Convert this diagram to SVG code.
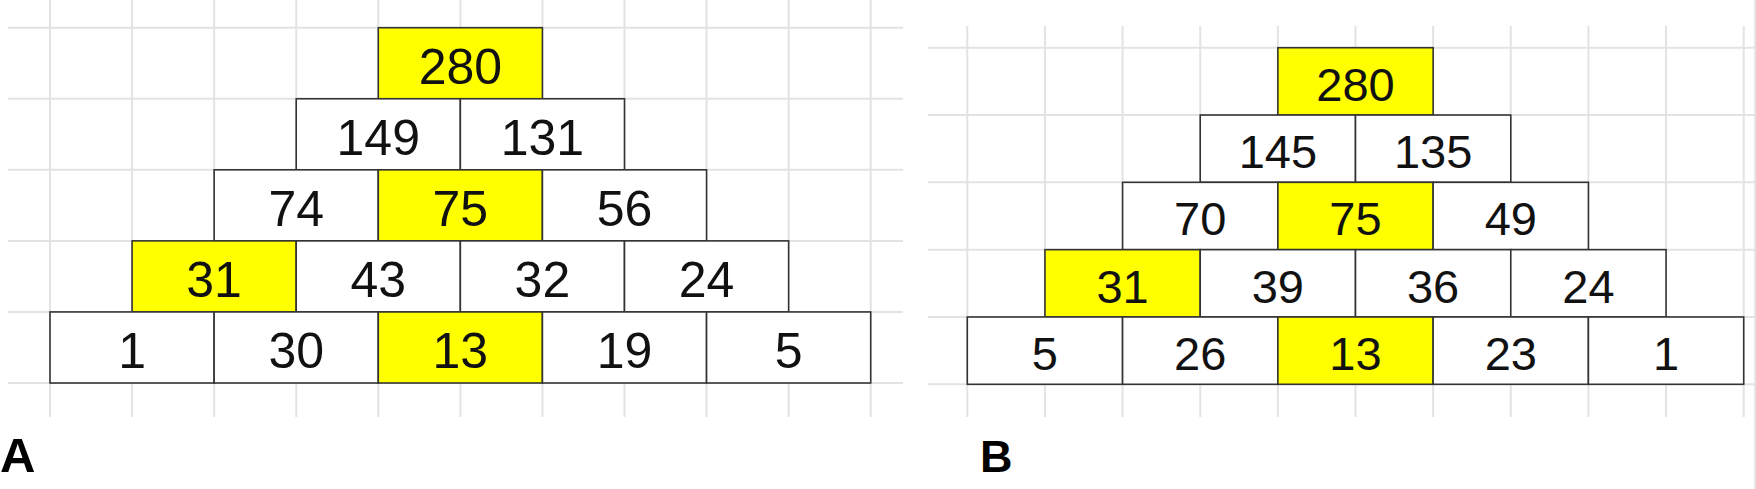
<svg xmlns="http://www.w3.org/2000/svg" width="1756" height="489" viewBox="0 0 1756 489">
<style>
.grid line{stroke:#e3e3e3;stroke-width:2}
.c rect{stroke:#333;stroke-width:1.6}
.w{fill:#fff}
.y{fill:#ffff00}
.tA{font-family:"Liberation Sans",Arial,sans-serif;font-size:50px;fill:#111;text-anchor:middle}
.tB{font-family:"Liberation Sans",Arial,sans-serif;font-size:47px;fill:#111;text-anchor:middle}
.lbl{font-family:"Liberation Sans",Arial,sans-serif;font-weight:bold;fill:#000}
</style>
<rect width="1756" height="489" fill="#fff"/>
<g id="gridA" class="grid">
<line x1="8" y1="27.7" x2="903" y2="27.7"/>
<line x1="8" y1="98.76" x2="903" y2="98.76"/>
<line x1="8" y1="169.82" x2="903" y2="169.82"/>
<line x1="8" y1="240.88" x2="903" y2="240.88"/>
<line x1="8" y1="311.94" x2="903" y2="311.94"/>
<line x1="8" y1="383" x2="903" y2="383"/>
<line x1="50" y1="0" x2="50" y2="417"/>
<line x1="132.07" y1="0" x2="132.07" y2="417"/>
<line x1="214.14" y1="0" x2="214.14" y2="417"/>
<line x1="296.21" y1="0" x2="296.21" y2="417"/>
<line x1="378.28" y1="0" x2="378.28" y2="417"/>
<line x1="460.35" y1="0" x2="460.35" y2="417"/>
<line x1="542.42" y1="0" x2="542.42" y2="417"/>
<line x1="624.49" y1="0" x2="624.49" y2="417"/>
<line x1="706.56" y1="0" x2="706.56" y2="417"/>
<line x1="788.63" y1="0" x2="788.63" y2="417"/>
<line x1="870.7" y1="0" x2="870.7" y2="417"/>
</g>
<g id="gridB" class="grid">
<line x1="928" y1="47.7" x2="1756" y2="47.7"/>
<line x1="928" y1="115.02" x2="1756" y2="115.02"/>
<line x1="928" y1="182.34" x2="1756" y2="182.34"/>
<line x1="928" y1="249.66" x2="1756" y2="249.66"/>
<line x1="928" y1="316.98" x2="1756" y2="316.98"/>
<line x1="928" y1="384.3" x2="1756" y2="384.3"/>
<line x1="967.3" y1="26" x2="967.3" y2="417"/>
<line x1="1044.94" y1="26" x2="1044.94" y2="417"/>
<line x1="1122.58" y1="26" x2="1122.58" y2="417"/>
<line x1="1200.22" y1="26" x2="1200.22" y2="417"/>
<line x1="1277.86" y1="26" x2="1277.86" y2="417"/>
<line x1="1355.5" y1="26" x2="1355.5" y2="417"/>
<line x1="1433.14" y1="26" x2="1433.14" y2="417"/>
<line x1="1510.78" y1="26" x2="1510.78" y2="417"/>
<line x1="1588.42" y1="26" x2="1588.42" y2="417"/>
<line x1="1666.06" y1="26" x2="1666.06" y2="417"/>
<line x1="1743.7" y1="26" x2="1743.7" y2="417"/>
<line x1="1755.2" y1="0" x2="1755.2" y2="489"/>
</g>
<g id="panelA" class="c">
<g id="a280"><rect class="y" x="378.28" y="27.7" width="164.14" height="71.06"/><text class="tA" x="460.35" y="83.7">280</text></g>
<g id="a149"><rect class="w" x="296.21" y="98.76" width="164.14" height="71.06"/><text class="tA" x="378.28" y="154.8">149</text></g>
<g id="a131"><rect class="w" x="460.35" y="98.76" width="164.14" height="71.06"/><text class="tA" x="542.42" y="154.8">131</text></g>
<g id="a74"><rect class="w" x="214.14" y="169.82" width="164.14" height="71.06"/><text class="tA" x="296.21" y="225.8">74</text></g>
<g id="a75"><rect class="y" x="378.28" y="169.82" width="164.14" height="71.06"/><text class="tA" x="460.35" y="225.8">75</text></g>
<g id="a56"><rect class="w" x="542.42" y="169.82" width="164.14" height="71.06"/><text class="tA" x="624.49" y="225.8">56</text></g>
<g id="a31"><rect class="y" x="132.07" y="240.88" width="164.14" height="71.06"/><text class="tA" x="214.14" y="296.9">31</text></g>
<g id="a43"><rect class="w" x="296.21" y="240.88" width="164.14" height="71.06"/><text class="tA" x="378.28" y="296.9">43</text></g>
<g id="a32"><rect class="w" x="460.35" y="240.88" width="164.14" height="71.06"/><text class="tA" x="542.42" y="296.9">32</text></g>
<g id="a24"><rect class="w" x="624.49" y="240.88" width="164.14" height="71.06"/><text class="tA" x="706.56" y="296.9">24</text></g>
<g id="a1"><rect class="w" x="50" y="311.94" width="164.14" height="71.06"/><text class="tA" x="132.07" y="367.9">1</text></g>
<g id="a30"><rect class="w" x="214.14" y="311.94" width="164.14" height="71.06"/><text class="tA" x="296.21" y="367.9">30</text></g>
<g id="a13"><rect class="y" x="378.28" y="311.94" width="164.14" height="71.06"/><text class="tA" x="460.35" y="367.9">13</text></g>
<g id="a19"><rect class="w" x="542.42" y="311.94" width="164.14" height="71.06"/><text class="tA" x="624.49" y="367.9">19</text></g>
<g id="a5"><rect class="w" x="706.56" y="311.94" width="164.14" height="71.06"/><text class="tA" x="788.63" y="367.9">5</text></g>
</g>
<g id="panelB" class="c">
<g id="b280"><rect class="y" x="1277.86" y="47.7" width="155.28" height="67.32"/><text class="tB" x="1355.5" y="100.7">280</text></g>
<g id="b145"><rect class="w" x="1200.22" y="115.02" width="155.28" height="67.32"/><text class="tB" x="1277.86" y="168">145</text></g>
<g id="b135"><rect class="w" x="1355.5" y="115.02" width="155.28" height="67.32"/><text class="tB" x="1433.14" y="168">135</text></g>
<g id="b70"><rect class="w" x="1122.58" y="182.34" width="155.28" height="67.32"/><text class="tB" x="1200.22" y="235.3">70</text></g>
<g id="b75"><rect class="y" x="1277.86" y="182.34" width="155.28" height="67.32"/><text class="tB" x="1355.5" y="235.3">75</text></g>
<g id="b49"><rect class="w" x="1433.14" y="182.34" width="155.28" height="67.32"/><text class="tB" x="1510.78" y="235.3">49</text></g>
<g id="b31"><rect class="y" x="1044.94" y="249.66" width="155.28" height="67.32"/><text class="tB" x="1122.58" y="302.7">31</text></g>
<g id="b39"><rect class="w" x="1200.22" y="249.66" width="155.28" height="67.32"/><text class="tB" x="1277.86" y="302.7">39</text></g>
<g id="b36"><rect class="w" x="1355.5" y="249.66" width="155.28" height="67.32"/><text class="tB" x="1433.14" y="302.7">36</text></g>
<g id="b24"><rect class="w" x="1510.78" y="249.66" width="155.28" height="67.32"/><text class="tB" x="1588.42" y="302.7">24</text></g>
<g id="b5"><rect class="w" x="967.3" y="316.98" width="155.28" height="67.32"/><text class="tB" x="1044.94" y="370">5</text></g>
<g id="b26"><rect class="w" x="1122.58" y="316.98" width="155.28" height="67.32"/><text class="tB" x="1200.22" y="370">26</text></g>
<g id="b13"><rect class="y" x="1277.86" y="316.98" width="155.28" height="67.32"/><text class="tB" x="1355.5" y="370">13</text></g>
<g id="b23"><rect class="w" x="1433.14" y="316.98" width="155.28" height="67.32"/><text class="tB" x="1510.78" y="370">23</text></g>
<g id="b1"><rect class="w" x="1588.42" y="316.98" width="155.28" height="67.32"/><text class="tB" x="1666.06" y="370">1</text></g>
</g>
<g id="labelA"><text class="lbl" x="0" y="472.3" font-size="49">A</text></g>
<g id="labelB"><text class="lbl" x="980" y="471.7" font-size="45">B</text></g>
</svg>
